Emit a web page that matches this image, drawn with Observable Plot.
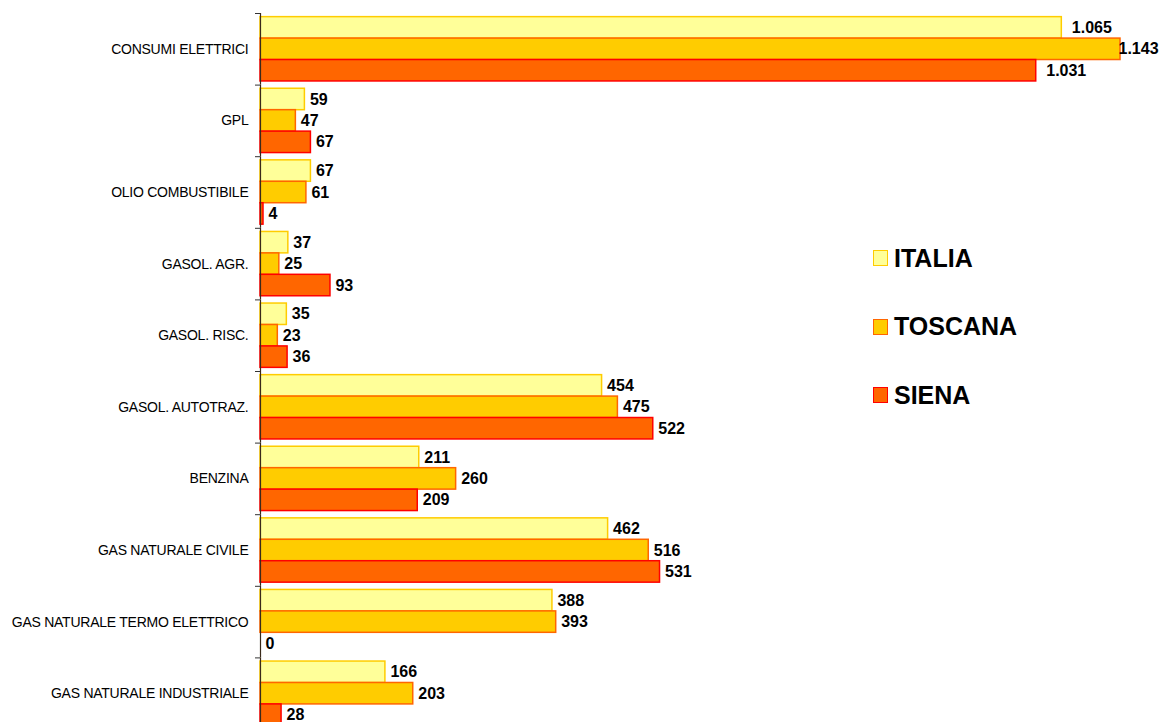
<!DOCTYPE html>
<html>
<head>
<meta charset="utf-8">
<script src="https://cdn.jsdelivr.net/npm/d3@7"></script>
<script src="https://cdn.jsdelivr.net/npm/@observablehq/plot@0.6"></script>
<style>
  html, body { margin: 0; padding: 0; background: #fff; overflow: hidden; }
  body { width: 1163px; height: 722px; position: relative; font-family: "Liberation Sans", Arial, sans-serif; }
  #chart { position: absolute; left: 0; top: 0; }
  #chart [aria-label="fy-axis tick label"] { letter-spacing: -0.25px; }
  #legend { position: absolute; left: 873px; top: 243px; }
  .item { position: absolute; left: 0; height: 30px; display: flex; align-items: center; white-space: nowrap; }
  .sw { width: 13px; height: 14px; border: 1.5px solid; margin-right: 6px; }
  .lab { font-weight: bold; font-size: 25px; color: #000; }
</style>
</head>
<body>
<div id="chart"></div>
<div id="legend"></div>
<script>
const categories = [
  "CONSUMI ELETTRICI", "GPL", "OLIO COMBUSTIBILE", "GASOL. AGR.", "GASOL. RISC.",
  "GASOL. AUTOTRAZ.", "BENZINA", "GAS NATURALE CIVILE", "GAS NATURALE TERMO ELETTRICO",
  "GAS NATURALE INDUSTRIALE"
];
const series = ["ITALIA", "TOSCANA", "SIENA"];
const italia  = [1065, 59, 67, 37, 35, 454, 211, 462, 388, 166];
const toscana = [1143, 47, 61, 25, 23, 475, 260, 516, 393, 203];
const siena   = [1031, 67, 4, 93, 36, 522, 209, 531, 0, 28];
const fills   = {ITALIA: "#FFFF99", TOSCANA: "#FFCC00", SIENA: "#FF6600"};
const strokes = {ITALIA: "#FFCC00", TOSCANA: "#FF6600", SIENA: "#FF0000"};

const values = {ITALIA: italia, TOSCANA: toscana, SIENA: siena};
const data = [];
categories.forEach((c, i) => series.forEach(s => data.push({cat: c, series: s, value: values[s][i]})));

const fmt = d3.formatLocale({decimal: ",", thousands: ".", grouping: [3], currency: ["€", ""]}).format(",d");
const maxVal = d3.max(data, d => d.value);

const W = 1163, H = 729, MT = 13, MB = 0, ML = 260, MR = 43;
const step = (H - MT - MB) / categories.length;
const font = "Liberation Sans, Arial, sans-serif";

const barMarks = series.map(s => Plot.barX(data.filter(d => d.series === s && d.value > 0), {
  fy: "cat", y: "series", x: "value", fill: fills[s], stroke: strokes[s], strokeWidth: 1.5
}));

const labelOpts = {fy: "cat", y: "series", x: "value", text: d => fmt(d.value), textAnchor: "start",
  fontWeight: "bold", fontSize: 16, fill: "#000", dy: 0, fontFamily: font};

const plot = Plot.plot({
  width: W, height: H,
  marginTop: MT, marginBottom: MB, marginLeft: ML, marginRight: MR,
  style: {background: "#fff", fontFamily: font, overflow: "visible"},
  x: {domain: [0, maxVal], axis: null},
  y: {domain: series, paddingInner: 0, paddingOuter: 0.17, round: false, axis: null},
  fy: {domain: categories, padding: 0, round: false, label: null},
  marks: [
    ...barMarks,
    Plot.ruleX([0], {stroke: "#3a2a1a", strokeWidth: 1.2}),
    Plot.axisFy({anchor: "left", tickSize: 0, tickPadding: 12, fontSize: 14, fill: "#000", label: null, fontFamily: font}),
    Plot.axisFy({anchor: "left", tickSize: 5, text: null, dy: -step / 2, stroke: "#333", label: null}),
    Plot.text(data.filter(d => d.value < 1000), {...labelOpts, dx: 5}),
    Plot.text(data.filter(d => d.value >= 1000 && d.value < maxVal), {...labelOpts, dx: 10}),
    Plot.text(data.filter(d => d.value === maxVal), {...labelOpts, dx: -2})
  ]
});
document.getElementById("chart").append(plot);

const legend = document.getElementById("legend");
series.forEach((s, i) => {
  const item = document.createElement("div");
  item.className = "item";
  item.style.top = (i * 68.5) + "px";
  item.innerHTML = `<span class="sw" style="background:${fills[s]};border-color:${strokes[s]}"></span><span class="lab">${s}</span>`;
  legend.append(item);
});
</script>
</body>
</html>
